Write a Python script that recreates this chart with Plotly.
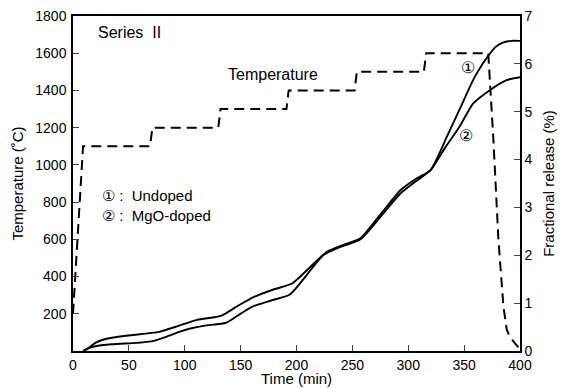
import plotly.graph_objects as go

# Temperature program (dashed)
temp_t = [0, 9, 69, 71, 130, 132, 191, 193, 252, 254, 314, 316, 371.6, 376.2, 380.7, 385.2, 388.2, 391, 395, 400]
temp_v = [200, 1100, 1100, 1200, 1200, 1300, 1300, 1400, 1400, 1500, 1500, 1600, 1600, 1134, 597, 238, 113, 77, 45, 10]

# (1) Undoped
und_t = [9, 13, 20, 29, 48, 77, 95, 111, 125, 133, 148, 162, 180, 196, 227, 242, 257, 275, 293, 307, 320, 335, 347, 358, 366, 372, 378, 384, 392, 400]
und_v = [0, 0.05, 0.17, 0.25, 0.32, 0.40, 0.53, 0.65, 0.70, 0.74, 0.95, 1.13, 1.29, 1.41, 2.07, 2.22, 2.35, 2.85, 3.36, 3.60, 3.78, 4.50, 5.10, 5.66, 5.98, 6.18, 6.35, 6.44, 6.48, 6.48]

# (2) MgO-doped
mgo_t = [9, 13, 20, 35, 57, 70, 84, 95, 105, 118, 137, 150, 161, 178, 194, 224, 240, 257, 275, 293, 307, 320, 333, 346, 358, 373, 388, 400]
mgo_v = [0, 0.05, 0.10, 0.14, 0.17, 0.20, 0.30, 0.40, 0.47, 0.53, 0.59, 0.78, 0.93, 1.06, 1.18, 2.00, 2.18, 2.33, 2.80, 3.29, 3.55, 3.78, 4.25, 4.69, 5.17, 5.45, 5.66, 5.72]

x_ticks = [0, 50, 100, 150, 200, 250, 300, 350, 400]
y_ticks = [200, 400, 600, 800, 1000, 1200, 1400, 1600, 1800]
y2_ticks = [0, 1, 2, 3, 4, 5, 6, 7]

FONT = "Liberation Sans, Arial, sans-serif"

fig = go.Figure()
fig.add_trace(go.Scatter(x=temp_t, y=temp_v, mode="lines",
                         line=dict(color="black", width=2, dash="10px,6px"),
                         yaxis="y", showlegend=False))
fig.add_trace(go.Scatter(x=und_t, y=und_v, mode="lines",
                         line=dict(color="black", width=1.9, shape="spline", smoothing=0.6),
                         yaxis="y2", showlegend=False))
fig.add_trace(go.Scatter(x=mgo_t, y=mgo_v, mode="lines",
                         line=dict(color="black", width=1.9, shape="spline", smoothing=0.6),
                         yaxis="y2", showlegend=False))

fig.update_layout(
    width=563, height=388,
    margin=dict(l=73, r=43, t=16, b=37),
    paper_bgcolor="white", plot_bgcolor="white",
    font=dict(family=FONT, size=14, color="black"),
    xaxis=dict(range=[0, 400], tickvals=x_ticks, ticks="inside", ticklen=6,
               ticklabelstandoff=0, automargin=False,
               showline=True, linecolor="black", linewidth=1.5, mirror=True,
               showgrid=False, zeroline=False),
    yaxis=dict(range=[0, 1800], tickvals=y_ticks, ticks="inside", ticklen=6,
               ticklabelstandoff=2, automargin=False,
               showline=True, linecolor="black", linewidth=1.5,
               showgrid=False, zeroline=False,
               title=dict(text="Temperature (˚C)", font=dict(size=15), standoff=8)),
    yaxis2=dict(range=[0, 7], tickvals=y2_ticks, ticks="inside", ticklen=6,
                overlaying="y", side="right", automargin=False,
                showline=True, linecolor="black", linewidth=1.5,
                showgrid=False, zeroline=False,
                title=dict(text="Fractional release (%)", font=dict(size=15), standoff=12)),
)

PW = 563 - 73 - 43
PH = 388 - 16 - 37
ann = [
    dict(text="Series  II", x=97, y=33, size=16, xa="left", ya="middle"),
    dict(text="Temperature", x=227, y=75, size=16, xa="left", ya="middle"),
    dict(text="①", x=460, y=67, size=16, xa="left", ya="middle"),
    dict(text="②", x=458, y=135, size=16, xa="left", ya="middle"),
    dict(text="① :  Undoped", x=101, y=195, size=15, xa="left", ya="middle"),
    dict(text="② :  MgO-doped", x=101, y=216, size=15, xa="left", ya="middle"),
    dict(text="Time (min)", x=296, y=388, size=15, xa="center", ya="bottom"),
]
for a in ann:
    fig.add_annotation(text=a["text"], xref="paper", yref="paper",
                       x=(a["x"] - 73) / PW, y=1 - (a["y"] - 16) / PH,
                       xanchor=a["xa"], yanchor=a["ya"], showarrow=False,
                       borderpad=0,
                       font=dict(family=FONT, size=a["size"], color="black"))

fig.write_html("out.html")
